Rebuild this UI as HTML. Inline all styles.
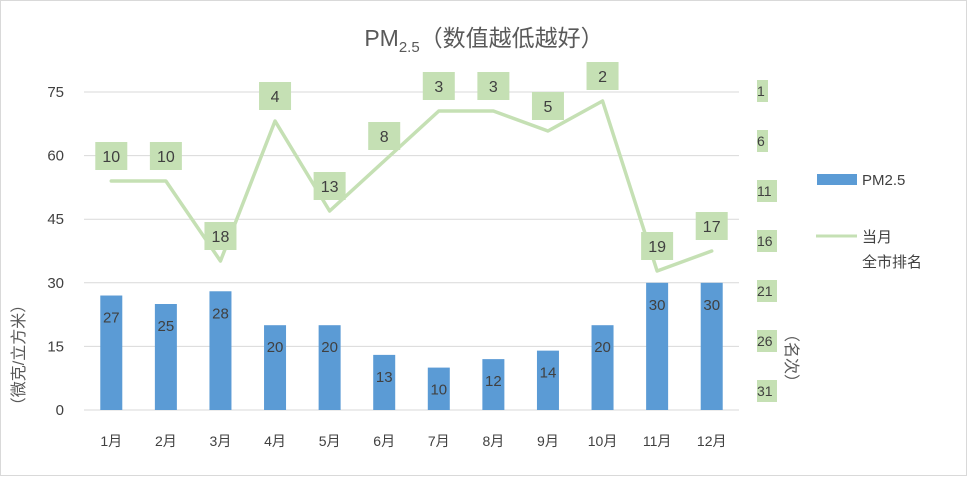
<!DOCTYPE html>
<html><head><meta charset="utf-8"><style>
html,body{margin:0;padding:0;background:#fff}
svg text{font-family:"Liberation Sans","Noto Sans CJK SC",sans-serif;fill:#404040}
</style></head><body>
<svg id="chart" width="969" height="478" viewBox="0 0 969 478">
<rect x="0.5" y="0.5" width="966" height="475" fill="#fff" stroke="#d9d9d9"/>
<text x="484" y="46" text-anchor="middle" font-size="23" style="fill:#595959">PM<tspan font-size="15" dy="6">2.5</tspan><tspan dy="-6">（数值越低越好）</tspan></text>
<g id="grid"></g><g id="bars"></g><g id="line"></g><g id="labels"></g>
<text transform="translate(24,355) rotate(-90)" text-anchor="middle" font-size="16" style="fill:#595959">（微克/立方米）</text>
<text transform="translate(786,358) rotate(90)" text-anchor="middle" font-size="16" style="fill:#595959">（名次）</text>
<g>
<rect x="817" y="174" width="40" height="11" fill="#5b9bd5"/>
<text x="862" y="185" font-size="15">PM2.5</text>
<line x1="816" y1="236" x2="857" y2="236" stroke="#c5e0b4" stroke-width="3"/>
<text x="862" y="242" font-size="15">当月</text>
<text x="862" y="267" font-size="15">全市排名</text>
</g>
</svg>
<script>
const months=["1月","2月","3月","4月","5月","6月","7月","8月","9月","10月","11月","12月"];
const pm25=[27,25,28,20,20,13,10,12,14,20,30,30];
const ranks=[10,10,18,4,13,8,3,3,5,2,19,17];
const leftTicks=[0,15,30,45,60,75];
const rightTicks=[1,6,11,16,21,26,31];
const NS="http://www.w3.org/2000/svg";
const x0=84,x1=739,n=months.length,step=(x1-x0)/n;
const xc=i=>x0+step*(i+0.5);
const yL=v=>410-v*(318/75);
const yR=r=>91+(r-1)*10;
function mk(t,a,p){const e=document.createElementNS(NS,t);for(const k in a)e.setAttribute(k,a[k]);p.appendChild(e);return e;}
const g=document.getElementById('grid'),b=document.getElementById('bars'),l=document.getElementById('line'),lb=document.getElementById('labels');
leftTicks.forEach(v=>{
 const ln=mk('line',{x1:x0,x2:x1,y1:yL(v),y2:yL(v),stroke:'#d9d9d9','stroke-width':1},g);
 
 
 const t=mk('text',{x:64,y:yL(v)+5,'text-anchor':'end','font-size':15},g);t.textContent=v;
 
 
});
rightTicks.forEach(r=>{
 const w=String(r).length>1?20:11;
 const bg=mk('rect',{x:757,y:yR(r)-11,width:w,height:22,fill:'#c5e0b4'},g);
 
 
 const t=mk('text',{x:757,y:yR(r)+5,'font-size':14},g);t.textContent=r;
 
 
});
months.forEach((m,i)=>{
 const t=mk('text',{x:xc(i),y:446,'text-anchor':'middle','font-size':14},g);t.textContent=m;
 
 
});
pm25.forEach((v,i)=>{
 const r=mk('rect',{x:xc(i)-11,y:yL(v),width:22,height:410-yL(v),fill:'#5b9bd5'},b);
 
 
 const t=mk('text',{x:xc(i),y:yL(v)+27,'text-anchor':'middle','font-size':15},lb);t.textContent=v;
 
 
});
const pl=mk('polyline',{points:ranks.map((r,i)=>xc(i)+','+yR(r)).join(' '),fill:'none',stroke:'#c5e0b4','stroke-width':3.5,'stroke-linejoin':'round','stroke-linecap':'round'},l);


ranks.forEach((r,i)=>{
 const cy=yR(r)-25;
 const bg=mk('rect',{x:xc(i)-16,y:cy-14,width:32,height:28,fill:'#c5e0b4'},lb);
 
 
 const t=mk('text',{x:xc(i),y:cy+6,'text-anchor':'middle','font-size':16},lb);t.textContent=r;
 
 
});
</script>
</body></html>
